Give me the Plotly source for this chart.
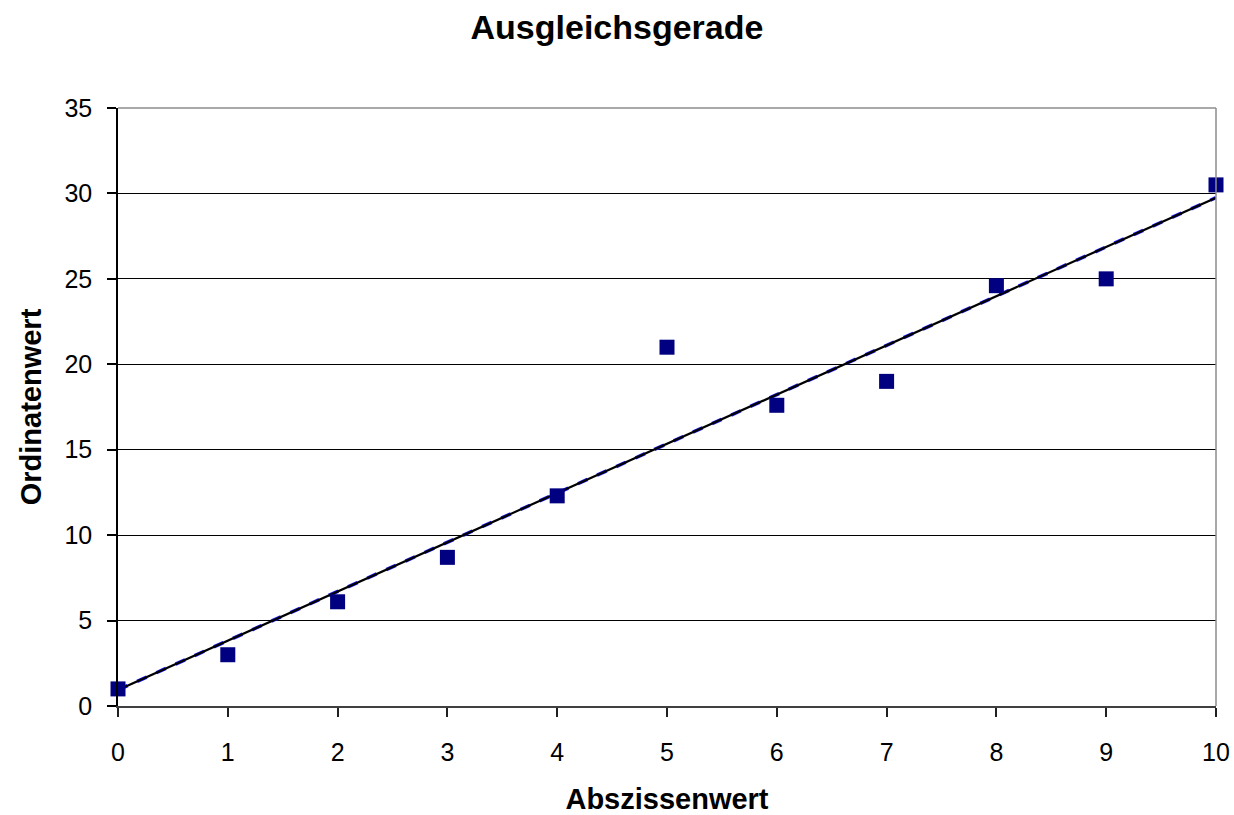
import numpy as np
import plotly.graph_objects as go

# Messwerte
abszisse = [0, 1, 2, 3, 4, 5, 6, 7, 8, 9, 10]
ordinate = [1.0, 3.0, 6.1, 8.7, 12.3, 21.0, 17.6, 19.0, 24.6, 25.0, 30.5]

x_ticks = [0, 1, 2, 3, 4, 5, 6, 7, 8, 9, 10]
y_ticks = [0, 5, 10, 15, 20, 25, 30, 35]

# Ausgleichsgerade nach der Methode der kleinsten Quadrate
steigung, achsenabschnitt = np.polyfit(abszisse, ordinate, 1)
x_fit = np.array([abszisse[0], abszisse[-1]], dtype=float)
y_fit = steigung * x_fit + achsenabschnitt

font = "Liberation Sans, Arial, sans-serif"

fig = go.Figure()

# berechnete Gerade (blau gestrichelt)
fig.add_trace(go.Scatter(
    x=x_fit, y=y_fit, mode="lines",
    line=dict(color="#1a1aff", width=3.5, dash="dash"),
    hoverinfo="skip", showlegend=False, cliponaxis=False,
))

# Trendlinie (schwarz)
fig.add_trace(go.Scatter(
    x=x_fit, y=y_fit, mode="lines",
    line=dict(color="black", width=2.2),
    hoverinfo="skip", showlegend=False, cliponaxis=False,
))

# Messpunkte
fig.add_trace(go.Scatter(
    x=abszisse, y=ordinate, mode="markers",
    marker=dict(symbol="square", size=15, color="#000080",
                line=dict(width=0)),
    showlegend=False, cliponaxis=False,
))

fig.update_layout(
    width=1234, height=815,
    margin=dict(l=118, r=18, t=108, b=109, autoexpand=False),
    paper_bgcolor="white", plot_bgcolor="white",
    font=dict(family=font, color="black"),
    title=dict(
        text="<b>Ausgleichsgerade</b>",
        x=0.5, xanchor="center", xref="container",
        y=0.967, yanchor="middle", yref="container",
        font=dict(size=34, family=font, color="black"),
    ),
    xaxis=dict(
        range=[0, 10], tickvals=x_ticks, ticktext=[str(v) for v in x_ticks],
        showgrid=False, zeroline=False, automargin=False,
        showline=True, linecolor="#404040", linewidth=1.5,
        ticks="outside", ticklen=9, tickwidth=1.5, tickcolor="#202020",
        ticklabelstandoff=14,
        tickfont=dict(size=25, family=font, color="black"),
        title=dict(text="<b>Abszissenwert</b>", standoff=27,
                   font=dict(size=29, family=font, color="black")),
    ),
    yaxis=dict(
        range=[0, 35], tickvals=y_ticks, ticktext=[str(v) for v in y_ticks],
        showgrid=True, gridcolor="black", gridwidth=1.3, zeroline=False,
        automargin=False,
        showline=True, linecolor="black", linewidth=1.5,
        ticks="outside", ticklen=9, tickwidth=1.5, tickcolor="black",
        ticklabelstandoff=10,
        tickfont=dict(size=25, family=font, color="black"),
        title=dict(text="<b>Ordinatenwert</b>", standoff=14,
                   font=dict(size=29, family=font, color="black")),
    ),
    shapes=[
        # grauer Rahmen oben und rechts
        dict(type="line", xref="paper", yref="paper", x0=0, x1=1, y0=1, y1=1,
             line=dict(color="#8c8c8c", width=1.5), layer="above"),
        dict(type="line", xref="paper", yref="paper", x0=1, x1=1, y0=0, y1=1,
             line=dict(color="#8c8c8c", width=1.5), layer="above"),
    ],
)

fig.write_html("out.html")
